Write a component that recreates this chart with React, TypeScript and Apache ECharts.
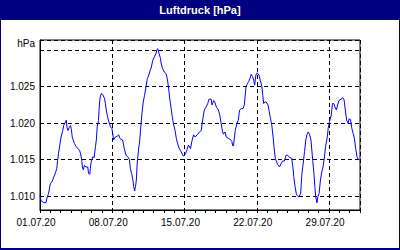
import React, { useEffect, useRef } from 'react';
import * as echarts from 'echarts';

const FONT = '"Liberation Sans", Arial, sans-serif';

// hours since 01.07.2020 00:00
const hoursSinceJul1 = [
  0, 2, 9, 14, 16, 20, 24, 28, 32, 36, 39, 41, 43, 46, 49, 53, 55, 58, 61, 63, 65, 68, 71, 73, 75, 80, 84, 88, 92, 95,
  97, 99, 101, 103, 107, 111, 113, 116, 117, 119, 123, 126, 129, 131, 133, 136, 138, 140, 143, 146, 150, 152, 154, 157,
  160, 164, 167, 169, 171, 175, 179, 183, 186,
  188, 192, 196, 200, 204, 208, 210, 213, 216, 218, 220, 222, 224, 226, 229, 232, 235, 237, 240, 243, 246, 249, 253,
  256, 259, 262, 266, 270, 272, 274, 277, 280, 282, 285, 289, 293, 296, 299, 302, 305, 307, 310, 314, 317, 320, 324,
  328, 333, 336, 339, 342, 345, 350, 353, 357, 361, 365,
  367, 371, 375, 377, 380, 382, 386, 390, 393, 398, 400, 404, 407, 410, 415, 418, 421, 424, 426, 430, 433, 438, 442,
  446, 448, 450, 452, 454, 458, 461, 464, 468, 472, 475, 479, 482, 485, 488, 491, 494, 497, 499, 502, 505, 509, 512,
  516, 518, 520, 523, 526, 530, 533, 536, 539, 542, 544, 547, 550, 553,
  557, 561, 564, 568, 572, 576, 580, 585, 588, 590, 593, 596, 599, 602, 606, 609, 612, 615, 618, 621, 624, 627, 630,
  632, 634, 637, 639, 641, 644, 646, 649, 652, 655, 658, 661, 664, 668, 670, 673, 677, 680, 683, 686, 689, 692, 695,
  700, 704, 707, 709, 713, 716, 719, 722, 725, 728, 731, 734, 737, 740, 743,
];

const pressureHpa = [
  1010.1, 1009.4, 1009.1, 1009.1, 1009.7, 1010.4, 1011.7, 1012.0, 1012.6, 1013.2, 1013.8, 1014.9, 1015.8, 1017.0,
  1018.1, 1019.0, 1019.7, 1020.0, 1020.4, 1019.4, 1019.0, 1019.4, 1019.7, 1019.1, 1018.1, 1017.2, 1016.8, 1016.5,
  1016.3, 1015.6, 1014.9, 1013.8, 1013.6, 1014.2, 1014.0, 1014.0, 1013.1, 1013.0, 1013.8, 1014.7, 1015.4, 1015.3,
  1016.8, 1017.7, 1019.5, 1020.4, 1022.5, 1023.6, 1024.1, 1023.9, 1023.4, 1022.7, 1021.8, 1020.9, 1020.2, 1019.5,
  1019.3, 1018.6, 1017.7, 1018.1, 1018.2, 1018.4, 1017.9,
  1017.8, 1017.7, 1016.5, 1015.6, 1015.4, 1015.0, 1013.8, 1013.1, 1012.2, 1011.3, 1010.7, 1011.3, 1012.2, 1014.5,
  1016.3, 1017.7, 1020.0, 1021.3, 1022.9, 1023.8, 1024.8, 1026.0, 1026.6, 1027.2, 1027.7, 1028.6, 1029.1, 1029.6,
  1030.1, 1030.2, 1029.5, 1028.9, 1028.1, 1027.5, 1027.0, 1026.8, 1026.1, 1024.8, 1023.2, 1022.0, 1021.1, 1020.0,
  1019.0, 1017.9, 1017.2, 1016.5, 1016.1, 1015.5, 1015.6, 1015.9, 1016.4, 1017.0, 1016.5, 1017.5, 1018.4, 1018.1,
  1018.4,
  1018.5, 1018.8, 1019.0, 1020.0, 1021.1, 1021.8, 1022.2, 1022.7, 1023.3, 1023.3, 1022.5, 1023.1, 1022.8, 1022.2,
  1021.8, 1021.1, 1020.0, 1019.0, 1018.5, 1018.8, 1018.1, 1017.9, 1017.8, 1017.5, 1016.9, 1016.9, 1018.1, 1019.0,
  1020.0, 1020.4, 1021.8, 1022.0, 1022.0, 1022.5, 1025.0, 1025.4, 1025.7, 1026.1, 1026.7, 1026.4, 1025.9, 1025.2,
  1026.6, 1026.9, 1026.6, 1025.9, 1025.0, 1023.8, 1022.7, 1022.9, 1022.9, 1022.5, 1021.6, 1020.6, 1019.7, 1018.1,
  1016.8, 1015.2, 1014.7, 1014.3,
  1014.0, 1014.5, 1014.8, 1014.8, 1015.6, 1015.6, 1015.3, 1015.2, 1014.0, 1012.7, 1011.3, 1010.3, 1010.0, 1009.9,
  1010.4, 1013.1, 1014.5, 1016.1, 1017.7, 1018.5, 1018.8, 1018.4, 1017.7, 1016.3, 1014.9, 1013.1, 1011.3, 1009.9,
  1009.1, 1009.9, 1010.4, 1012.2, 1013.3, 1014.0, 1015.2, 1016.8, 1018.1, 1019.3, 1020.2, 1021.1, 1022.7, 1022.7,
  1022.2, 1021.8, 1022.5, 1023.1, 1023.3, 1023.5, 1023.2, 1022.2, 1020.4, 1020.0, 1020.6, 1020.5, 1019.3, 1018.6,
  1017.9, 1016.5, 1015.4, 1015.0, 1015.0,
];

const weekTickLabels = ['01.07.20', '08.07.20', '15.07.20', '22.07.20', '29.07.20'];
const yTickValues = [1010, 1015, 1020, 1025];

export default function App() {
  const ref = useRef<HTMLDivElement>(null);

  useEffect(() => {
    if (!ref.current) return;
    const chart = echarts.init(ref.current, null, { renderer: 'svg' });
    chart.setOption({
      animation: false,
      backgroundColor: '#ffffff',
      textStyle: { fontFamily: FONT },
      title: {
        text: 'Luftdruck [hPa]',
        left: 'center',
        top: 3,
        padding: 0,
        textStyle: { color: '#ffffff', fontSize: 11, fontWeight: 'bold', fontFamily: FONT, lineHeight: 13 },
      },
      graphic: [
        { type: 'rect', z: -10, silent: true, shape: { x: 0, y: 0, width: 400, height: 250 }, style: { fill: '#000080' } },
        { type: 'rect', z: -9, silent: true, shape: { x: 1, y: 20, width: 398, height: 228 }, style: { fill: '#ffffff' } },
        {
          type: 'text',
          z: 10,
          x: 35,
          y: 43,
          style: { text: 'hPa', align: 'right', verticalAlign: 'middle', fill: '#000', font: `10px ${FONT}` },
        },
      ],
      grid: {
        left: 40,
        right: 40,
        top: 40,
        bottom: 40,
        show: true,
        borderColor: '#000',
        borderWidth: 1,
        backgroundColor: 'transparent',
      },
      xAxis: {
        type: 'value',
        min: 0,
        max: 744,
        interval: 168,
        axisLine: { show: true, lineStyle: { color: '#000', width: 1 } },
        axisTick: { show: true, length: 3, lineStyle: { color: '#000', width: 1 } },
        minorTick: { show: true, splitNumber: 7, length: 3, lineStyle: { color: '#000', width: 1 } },
        axisLabel: {
          margin: 7,
          fontSize: 10,
          color: '#000',
          fontFamily: FONT,
          padding: [0, 8, 0, 0],
          formatter: (v: number) => (v % 168 === 0 ? weekTickLabels[v / 168] ?? '' : ''),
        },
        splitLine: { show: true, lineStyle: { color: '#000', width: 1, type: [4, 3] } },
      },
      yAxis: {
        type: 'value',
        min: 1008.1,
        max: 1031.4,
        splitNumber: 5,
        axisLine: { show: true, lineStyle: { color: '#000', width: 1 } },
        axisTick: { show: false },
        axisLabel: {
          margin: 5,
          fontSize: 10,
          color: '#000',
          fontFamily: FONT,
          formatter: (v: number) => (yTickValues.includes(v) ? (v / 1000).toFixed(3) : ''),
        },
        splitLine: { show: true, lineStyle: { color: '#000', width: 1, type: [4, 3] } },
      },
      series: [
        {
          type: 'line',
          data: hoursSinceJul1.map((h, i) => [h, pressureHpa[i]]),
          symbol: 'none',
          showSymbol: false,
          lineStyle: { color: '#0000ff', width: 1 },
          itemStyle: { color: '#0000ff' },
        },
      ],
    });
    return () => chart.dispose();
  }, []);

  return <div ref={ref} style={{ position: 'fixed', left: 0, top: 0, width: 400, height: 250 }} />;
}
